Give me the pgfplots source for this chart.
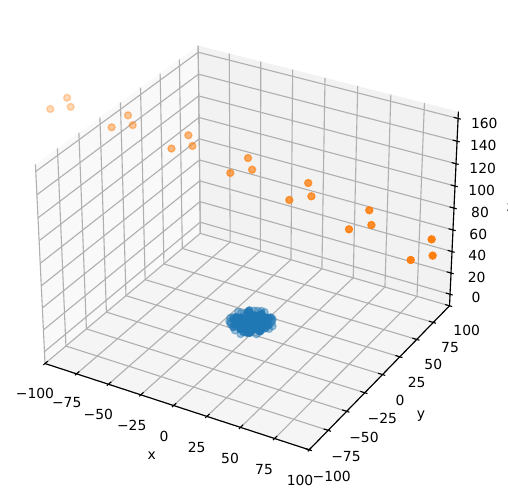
\documentclass[border=0pt]{standalone}
\usepackage{fontspec}
\setmainfont{DejaVu Sans}
\usepackage{pgfplots}
\pgfplotsset{compat=1.18}
% matplotlib's view (elev 30, azim -60, dist 10) applied to the columns x, y, z
\def\DD{(10-(0.002577*\thisrow{x}-0.004464*\thisrow{y}+0.002522*(\thisrow{z}-77.5)))}
\def\PX{251+2542*(0.005155*\thisrow{x}+0.002976*\thisrow{y})/\DD}
\def\PY{238-2542*(-0.001488*\thisrow{x}+0.002577*\thisrow{y}+0.004369*(\thisrow{z}-77.5))/\DD}
\pgfplotsset{/pgfplots/table/tbl/.style={x expr=\PX,y expr=\PY,row sep=\\}}
\tikzset{gr/.style={color=black!31,line width=0.8pt},
  ax/.style={color=black,line width=0.8pt},
  lab/.style={font=\fontsize{10}{12}\selectfont,inner sep=0pt,yshift=-0.72pt},
  dot/.style 2 args={only marks,mark=*,mark size=2.5pt,mark options={fill=#1,draw=#1,line width=1pt,opacity=#2}}}
\definecolor{mplblue}{HTML}{1F77B4}
\definecolor{mplorange}{HTML}{FF7F0E}
\begin{document}
\begin{tikzpicture}
\path[use as bounding box] (0,0) rectangle (365.76pt,357.84pt);
\begin{axis}[at={(0,0)},anchor=south west,scale only axis,width=365.76pt,height=357.84pt,
  xmin=0,xmax=508,ymin=0,ymax=497,y dir=reverse,hide axis,clip=false]
% panes
\addplot[fill=black!2.5,draw=none] table[tbl]{x y z\\ -100 -100 -11\\ -100 100 -11\\ -100 100 166\\ -100 -100 166\\};
\addplot[fill=black!5,draw=none] table[tbl]{x y z\\ -100 100 -11\\ 100 100 -11\\ 100 100 166\\ -100 100 166\\};
\addplot[fill=black!3.75,draw=none] table[tbl]{x y z\\ -100 -100 -11\\ 100 -100 -11\\ 100 100 -11\\ -100 100 -11\\};
% grid
\pgfplotsinvokeforeach{-100,-75,-50,-25,0,25,50,75,100}{
  \addplot[gr] table[tbl]{x y z\\ #1 -100 -11\\ #1 100 -11\\ #1 100 166\\};
  \addplot[gr] table[tbl]{x y z\\ 100 #1 -11\\ -100 #1 -11\\ -100 #1 166\\};
}
\pgfplotsinvokeforeach{0,20,40,60,80,100,120,140,160}{
  \addplot[gr] table[tbl]{x y z\\ -100 -100 #1\\ -100 100 #1\\ 100 100 #1\\};
}
% axis lines
\addplot[ax] table[tbl]{x y z\\ -100 -100 -11\\ 100 -100 -11\\ 100 100 -11\\ 100 100 166\\};
% ticks
\pgfplotsinvokeforeach{-100,-75,-50,-25,0,25,50,75,100}{
  \addplot[ax] table[tbl]{x y z\\ #1 -102 -11\\ #1 -96.7 -11\\};
  \addplot[ax] table[tbl]{x y z\\ 102 #1 -11\\ 96.7 #1 -11\\};
}
\pgfplotsinvokeforeach{0,20,40,60,80,100,120,140,160}{
  \addplot[ax] table[tbl]{x y z\\ 96.7 100 #1\\ 102 100 #1\\};
}
% blue cluster, far side and rim
\addplot[dot={mplblue}{0.4}] table[tbl]{x y z\\
14 0 -1\\ 13 5 1\\ 10 10 2\\ 5 13 -2\\ 0 14 2\\ -5 13 1\\ -10 10 -1\\ -13 5 2\\ -14 0 0\\
-13 -5 -2\\ -10 -10 1\\ -5 -13 -1\\ 0 -14 -2\\ 5 -13 1\\ 10 -10 -1\\ 13 -5 2\\ 8 12 0\\ -3 14 1\\ -8 12 1\\ 12 8 1\\ 15 3 0\\ 11 10 1\\ 2 15 1\\ -12 7 0\\ -15 -2 0\\ -14 -5 -1\\};
% blue cluster, body
\addplot[dot={mplblue}{0.7}] table[tbl]{x y z\\
11 1 1\\ 9 6 -2\\ 6 9 1\\ 2 11 2\\ -3 10.5 -1\\ -7 8 2\\ -10 4 -2\\ -11 -1 1\\ -9 -6 -1\\ -6 -9 2\\ -2 -11 0\\ 3 -10.5 -2\\ 7 -8 1\\ 10 -4 -1\\
8 0 2\\ 6 5 -1\\ 3 7.5 1\\ -2 8 -2\\ -6 5 2\\ -8 1 -1\\ -7 -4 1\\ -3 -7.5 -2\\ 2 -8 2\\ 6 -5 0\\
5 1 -2\\ 2 4.5 2\\ -3 4 -1\\ -5 -1 1\\ -2 -4.5 2\\ 3 -4 -2\\ 2 0 1\\ 0 2 -1\\ -2 0 2\\ 0 -2 0\\ 0 0 -2\\
12 3 0\\ 7 11 0\\ -8 11 1\\ -12 -3 1\\ -8 -8 0\\ 8 -8 2\\ 11 -7 0\\ 1 12 0\\ -1 -12 1\\
10 1 0\\ 9 -2 1\\ 7 2 0\\ 7 -3 -1\\ 4 -1 1\\ 4 3 0\\ 5 7 1\\ 1 6 -1\\ 0 9 0\\ -4 7 1\\ -5 2 0\\ -7 -1 1\\ -9 2 0\\ -10 -3 -1\\ -6 -3 0\\ -4 -6 1\\
-1 -6 -1\\ 1 -5 1\\ 4 -7 0\\ 5 -10 -1\\ 8 -6 1\\ 9 4 2\\ -1 3 1\\ -3 -2 0\\ 2 -2 -1\\ 12 -1 0\\ -12 1 0\\ -8 -10 -1\\ -1 -9 1\\ 1 -12 -1\\ 6 -12 0\\ 11 -8 1\\};
% orange, far to near
\addplot[dot={mplorange}{0.30}] table[tbl]{x y z\\ -142.5 -20.4 158\\ -142 -1 158\\ -132.5 -11 158\\};
\addplot[dot={mplorange}{0.42}] table[tbl]{x y z\\ -97.4 -15.4 153\\ -97.3 4.6 153\\ -87 -5.8 153\\};
\addplot[dot={mplorange}{0.53}] table[tbl]{x y z\\ -52.6 -13 147\\ -52.7 8.5 147\\ -42.6 -3 147\\};
\addplot[dot={mplorange}{0.65}] table[tbl]{x y z\\ -7.1 -14.5 141\\ -7.4 8.9 141\\ 2.9 -3.6 141\\};
\addplot[dot={mplorange}{0.77}] table[tbl]{x y z\\ 39.1 -18.8 135\\ 38.7 7 135\\ 49 -7.5 135\\};
\addplot[dot={mplorange}{0.88}] table[tbl]{x y z\\ 85.8 -25.1 129\\ 85.5 3 129\\ 95.5 -13.2 129\\};
\addplot[dot={mplorange}{1}] table[tbl]{x y z\\ 133 -31.9 123\\ 132.8 -2.4 123\\ 142.4 -20.3 123\\};
% x tick labels
\node[lab] at (axis cs:35,392.3) {−100};
\node[lab] at (axis cs:66.7,402) {−75};
\node[lab] at (axis cs:98.3,413.3) {−50};
\node[lab] at (axis cs:131.7,424.3) {−25};
\node[lab] at (axis cs:164,435.3) {0};
\node[lab] at (axis cs:196.7,446.7) {25};
\node[lab] at (axis cs:230,457.3) {50};
\node[lab] at (axis cs:264,468.7) {75};
\node[lab] at (axis cs:300,479.3) {100};
\node[lab] at (axis cs:151.7,455) {x};
% y tick labels
\node[lab] at (axis cs:331.7,475.3) {−100};
\node[lab] at (axis cs:346,455.3) {−75};
\node[lab] at (axis cs:364,436.3) {−50};
\node[lab] at (axis cs:382.3,417) {−25};
\node[lab] at (axis cs:400,399.3) {0};
\node[lab] at (axis cs:416.7,381.3) {25};
\node[lab] at (axis cs:433.3,363) {50};
\node[lab] at (axis cs:450,346.3) {75};
\node[lab] at (axis cs:466.7,329) {100};
\node[lab] at (axis cs:421,415.3) {y};
% z tick labels
\node[lab] at (axis cs:484.3,122.3) {160};
\node[lab] at (axis cs:483.3,144.3) {140};
\node[lab] at (axis cs:482.7,167) {120};
\node[lab] at (axis cs:481.7,189) {100};
\node[lab] at (axis cs:480,211) {80};
\node[lab] at (axis cs:478.3,233.3) {60};
\node[lab] at (axis cs:477.3,254.3) {40};
\node[lab] at (axis cs:476.7,276.3) {20};
\node[lab] at (axis cs:476,296.7) {0};
\node[lab] at (axis cs:510.5,206.5) {z};
\end{axis}
\end{tikzpicture}
\end{document}
